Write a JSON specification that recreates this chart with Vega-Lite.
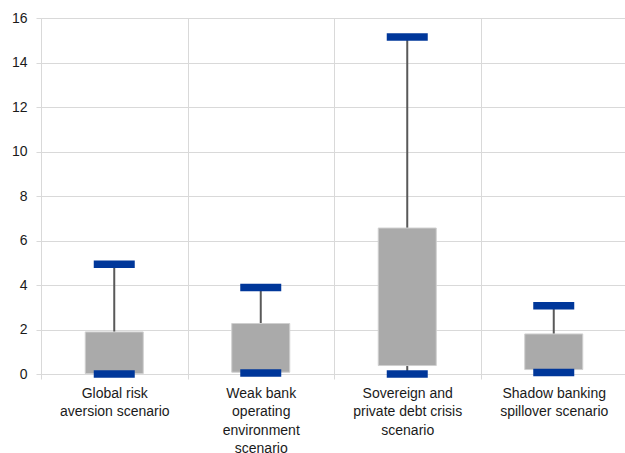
{
  "$schema": "https://vega.github.io/schema/vega-lite/v6.json",
  "width": 586,
  "height": 356,
  "autosize": "none",
  "padding": {"left": 41, "top": 18, "right": 0, "bottom": 79},
  "background": "white",
  "config": {
    "view": {"stroke": null},
    "font": "Liberation Sans",
    "axis": {
      "labelFont": "Liberation Sans",
      "labelFontSize": 14,
      "labelColor": "#1a1a1a",
      "gridColor": "#D9D9D9",
      "gridWidth": 1,
      "domainColor": "#D9D9D9",
      "tickColor": "#D9D9D9",
      "tickSize": 5,
      "title": null
    }
  },
  "data": {
    "values": [
      {"scenario": "Global risk aversion scenario", "min": 0.0, "low": 0.02, "high": 1.89, "max": 4.93},
      {"scenario": "Weak bank operating environment scenario", "min": 0.04, "low": 0.08, "high": 2.27, "max": 3.89},
      {"scenario": "Sovereign and private debt crisis scenario", "min": 0.0, "low": 0.38, "high": 6.56, "max": 15.15},
      {"scenario": "Shadow banking spillover scenario", "min": 0.07, "low": 0.2, "high": 1.8, "max": 3.07}
    ]
  },
  "encoding": {
    "x": {
      "field": "scenario",
      "type": "nominal",
      "sort": null,
      "scale": {"paddingInner": 0, "paddingOuter": 0},
      "axis": {
        "labelAngle": 0,
        "grid": true,
        "tickBand": "extent",
        "labelPadding": 7,
        "labelLineHeight": 18.5,
        "labelBaseline": "top",
        "labelLimit": 200,
        "labelExpr": "datum.value == 'Global risk aversion scenario' ? ['Global risk', 'aversion scenario'] : datum.value == 'Weak bank operating environment scenario' ? ['Weak bank', 'operating', 'environment', 'scenario'] : datum.value == 'Sovereign and private debt crisis scenario' ? ['Sovereign and', 'private debt crisis', 'scenario'] : datum.value == 'Shadow banking spillover scenario' ? ['Shadow banking', 'spillover scenario'] : ''"
      }
    }
  },
  "layer": [
    {
      "mark": {"type": "rule", "color": "#595959", "strokeWidth": 2},
      "encoding": {
        "y": {"field": "min", "type": "quantitative", "scale": {"domain": [0, 16]}, "axis": {"values": [0, 2, 4, 6, 8, 10, 12, 14, 16], "grid": true, "labelPadding": 9}},
        "y2": {"field": "max"}
      }
    },
    {
      "mark": {"type": "bar", "width": 58, "color": "#AAAAAA", "stroke": "#CFCFCF", "strokeWidth": 1},
      "encoding": {
        "y": {"field": "low", "type": "quantitative"},
        "y2": {"field": "high"}
      }
    },
    {
      "mark": {"type": "tick", "orient": "horizontal", "size": 41, "thickness": 7.5, "color": "#00379A", "opacity": 1},
      "encoding": {"y": {"field": "max", "type": "quantitative"}}
    },
    {
      "mark": {"type": "tick", "orient": "horizontal", "size": 41, "thickness": 7.5, "color": "#00379A", "opacity": 1},
      "encoding": {"y": {"field": "min", "type": "quantitative"}}
    }
  ]
}
